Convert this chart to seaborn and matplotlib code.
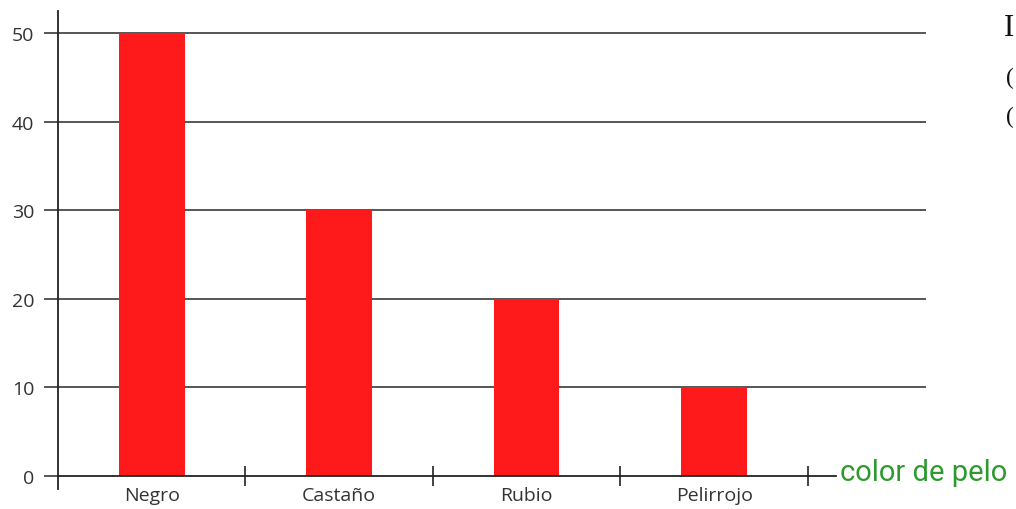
import matplotlib
matplotlib.use("Agg")
import matplotlib.pyplot as plt
import seaborn as sns
import pandas as pd

categories = ["Negro", "Castaño", "Rubio", "Pelirrojo"]
values = [50, 30, 20, 10]
yticks = [0, 10, 20, 30, 40, 50]
xlabel = "color de pelo"

sns.set_theme(style="white")
plt.rcParams['font.family'] = ['Open Sans', 'DejaVu Sans']

df = pd.DataFrame({"cat": categories, "val": values})

fig = plt.figure(figsize=(10.16, 5.10), dpi=100)
ax = fig.add_axes([58/1016, 0.0386, 868/1016, 0.977 - 0.0386])

sns.barplot(data=df, x="cat", y="val", color="#fe1a1a", saturation=1,
            width=0.35, ax=ax, zorder=3, linewidth=0, edgecolor="none")

ax.set_xlim(-0.5, 4.13)
ax.set_ylim(-1.5, 52.5)

for y in yticks[1:]:
    ax.axhline(y, color="#3a3a3a", lw=1.2, zorder=1)

ax.spines['top'].set_visible(False)
ax.spines['right'].set_visible(False)
ax.spines['left'].set_color("#222222")
ax.spines['left'].set_linewidth(1.3)
ax.spines['left'].set_bounds(-1.5, 52.5)
ax.spines['bottom'].set_position(('data', 0))
ax.spines['bottom'].set_bounds(-0.5, 3.65)
ax.spines['bottom'].set_color("#222222")
ax.spines['bottom'].set_linewidth(1.3)
ax.spines['bottom'].set_zorder(4)

ax.set_yticks(yticks)
ax.set_yticklabels([str(v) for v in yticks], fontsize=14, color="#333333")
ax.tick_params(axis='y', which='major', direction='out', length=10,
               width=1.2, color="#3a3a3a", pad=7, left=True)

ax.set_xticks(range(len(categories)))
ax.set_xticklabels(categories, fontsize=14, color="#333333")
ax.tick_params(axis='x', which='major', length=0, pad=7)
ax.set_xticks([0.5, 1.5, 2.5, 3.5], minor=True)
ax.tick_params(axis='x', which='minor', direction='inout', length=14,
               width=1.2, color="#222222", bottom=True)

ax.set_xlabel("")
ax.set_ylabel("")
ax.text(3.67, 0.4, xlabel, color="#2e9a2e", fontsize=21, family=['Roboto', 'DejaVu Sans'],
        ha="left", va="center", clip_on=False)

# fragments of cropped paragraph text at the right edge
for yy, ch, fs in [(29, "I", 22), (78, "(", 17), (117, "(", 17)]:
    fig.text(1014/1016, 1 - yy/510, ch, family=['Liberation Serif'], fontsize=fs,
             color="#111111", ha="right", va="center")

fig.savefig("out.png", dpi=100)
